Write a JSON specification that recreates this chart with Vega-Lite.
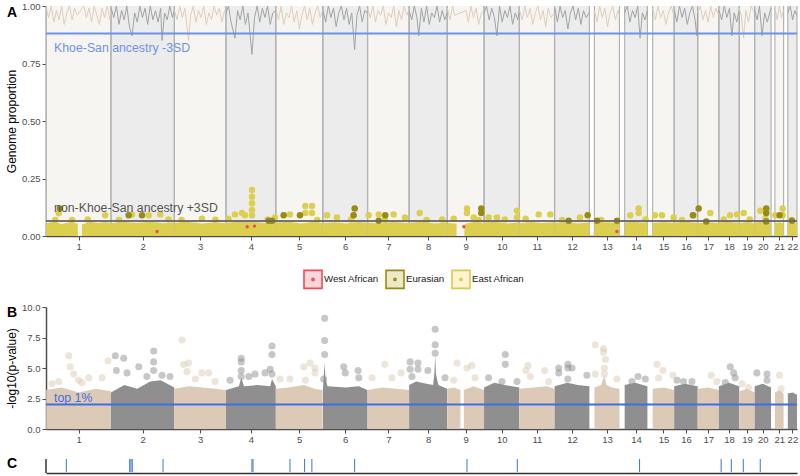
{
"$schema": "https://vega.github.io/schema/vega-lite/v6.json",
"background": "white",
"padding": {"left": 5, "top": 1, "right": 2, "bottom": 1},
"spacing": 10,
"config": {
 "font": "Liberation Sans",
 "view": {"stroke": null},
 "axis": {"grid": false, "domainColor": "#4d4d4d", "domainWidth": 1.5, "tickColor": "#4d4d4d", "tickWidth": 1, "tickSize": 4, "labelColor": "#4d4d4d", "labelFontSize": 9.5, "labelPadding": 2, "titleFontSize": 12, "titleFontWeight": "normal", "titleColor": "#000000", "titlePadding": 3, "labelFlush": false, "labelOverlap": false, "tickCount": 40}
},
"resolve": {"scale": {"fill": "independent", "stroke": "independent"}, "legend": {"fill": "independent", "stroke": "independent"}},
"datasets": {
 "chroms": [
  {"c":1,"g":0.8,"e":249.2},{"c":2,"g":249.3,"e":492.3},{"c":3,"g":492.5,"e":690.4},{"c":4,"g":690.5,"e":881.6},{"c":5,"g":881.7,"e":1061.3},{"c":6,"g":1062.7,"e":1233.4},{"c":7,"g":1233.7,"e":1392.7},{"c":8,"g":1393,"e":1539.1},{"c":9,"g":1539.4,"e":1680.3},{"c":10,"g":1680.5,"e":1815.8},{"c":11,"g":1816.1,"e":1950.8},{"c":12,"g":1951.1,"e":2084.6},{"c":13,"g":2103.8,"e":2199.9},{"c":14,"g":2219.9,"e":2307.2},{"c":15,"g":2327.4,"e":2409.8},{"c":16,"g":2409.9,"e":2500},{"c":17,"g":2500.2,"e":2581.3},{"c":18,"g":2581.4,"e":2659.4},{"c":19,"g":2659.6,"e":2718.5},{"c":20,"g":2718.6,"e":2781.5},{"c":21,"g":2796.2,"e":2829.7},{"c":22,"g":2845.8,"e":2881}
 ],
 "ks": [
  {"c":1,"g":1,"v":0.99},{"c":1,"g":10,"v":0.95},{"c":1,"g":20,"v":1},{"c":1,"g":30,"v":0.93},{"c":1,"g":40,"v":0.98},{"c":1,"g":50,"v":0.94},{"c":1,"g":60,"v":1},{"c":1,"g":70,"v":0.92},{"c":1,"g":80,"v":0.97},{"c":1,"g":90,"v":1},{"c":1,"g":100,"v":0.94},{"c":1,"g":110,"v":0.99},{"c":1,"g":120,"v":0.96},{"c":1,"g":145,"v":1},{"c":1,"g":155,"v":0.95},{"c":1,"g":165,"v":0.99},{"c":1,"g":175,"v":0.93},{"c":1,"g":185,"v":1},{"c":1,"g":195,"v":0.96},{"c":1,"g":205,"v":0.92},{"c":1,"g":215,"v":0.99},{"c":1,"g":225,"v":0.95},{"c":1,"g":235,"v":1},{"c":1,"g":245,"v":0.94},{"c":1,"g":249,"v":0.98},
  {"c":2,"g":250,"v":0.99},{"c":2,"g":260,"v":0.95},{"c":2,"g":270,"v":1},{"c":2,"g":280,"v":0.92},{"c":2,"g":290,"v":0.98},{"c":2,"g":300,"v":0.94},{"c":2,"g":310,"v":1},{"c":2,"g":320,"v":0.91},{"c":2,"g":330,"v":0.87},{"c":2,"g":340,"v":0.97},{"c":2,"g":350,"v":0.93},{"c":2,"g":360,"v":1},{"c":2,"g":370,"v":0.95},{"c":2,"g":380,"v":0.99},{"c":2,"g":390,"v":0.92},{"c":2,"g":400,"v":1},{"c":2,"g":410,"v":0.94},{"c":2,"g":420,"v":0.98},{"c":2,"g":430,"v":0.93},{"c":2,"g":440,"v":0.99},{"c":2,"g":445,"v":0.85},{"c":2,"g":455,"v":0.97},{"c":2,"g":465,"v":0.94},{"c":2,"g":475,"v":1},{"c":2,"g":485,"v":0.95},{"c":2,"g":492,"v":0.98},
  {"c":3,"g":493,"v":0.98},{"c":3,"g":503,"v":0.94},{"c":3,"g":513,"v":1},{"c":3,"g":523,"v":0.95},{"c":3,"g":533,"v":0.99},{"c":3,"g":547,"v":0.85},{"c":3,"g":555,"v":0.96},{"c":3,"g":565,"v":1},{"c":3,"g":575,"v":0.93},{"c":3,"g":585,"v":0.98},{"c":3,"g":595,"v":0.95},{"c":3,"g":605,"v":1},{"c":3,"g":615,"v":0.92},{"c":3,"g":625,"v":0.97},{"c":3,"g":635,"v":0.94},{"c":3,"g":645,"v":1},{"c":3,"g":655,"v":0.96},{"c":3,"g":665,"v":0.99},{"c":3,"g":675,"v":0.93},{"c":3,"g":685,"v":0.98},{"c":3,"g":690,"v":0.97},
  {"c":4,"g":691,"v":0.97},{"c":4,"g":700,"v":1},{"c":4,"g":710,"v":0.93},{"c":4,"g":725,"v":0.86},{"c":4,"g":735,"v":0.98},{"c":4,"g":745,"v":0.94},{"c":4,"g":755,"v":1},{"c":4,"g":765,"v":0.92},{"c":4,"g":775,"v":0.97},{"c":4,"g":790,"v":0.79},{"c":4,"g":800,"v":0.95},{"c":4,"g":810,"v":1},{"c":4,"g":820,"v":0.93},{"c":4,"g":830,"v":0.99},{"c":4,"g":840,"v":0.95},{"c":4,"g":850,"v":1},{"c":4,"g":860,"v":0.92},{"c":4,"g":870,"v":0.97},{"c":4,"g":881,"v":0.98},
  {"c":5,"g":882,"v":0.99},{"c":5,"g":892,"v":0.94},{"c":5,"g":902,"v":1},{"c":5,"g":912,"v":0.92},{"c":5,"g":922,"v":0.97},{"c":5,"g":932,"v":0.95},{"c":5,"g":942,"v":1},{"c":5,"g":952,"v":0.93},{"c":5,"g":962,"v":0.98},{"c":5,"g":972,"v":0.9},{"c":5,"g":982,"v":0.96},{"c":5,"g":992,"v":1},{"c":5,"g":1002,"v":0.94},{"c":5,"g":1012,"v":0.99},{"c":5,"g":1022,"v":0.92},{"c":5,"g":1032,"v":0.97},{"c":5,"g":1042,"v":1},{"c":5,"g":1052,"v":0.95},{"c":5,"g":1061,"v":0.98},
  {"c":6,"g":1063,"v":0.98},{"c":6,"g":1073,"v":0.93},{"c":6,"g":1083,"v":1},{"c":6,"g":1093,"v":0.95},{"c":6,"g":1103,"v":0.99},{"c":6,"g":1113,"v":0.91},{"c":6,"g":1123,"v":0.97},{"c":6,"g":1133,"v":1},{"c":6,"g":1143,"v":0.94},{"c":6,"g":1153,"v":0.99},{"c":6,"g":1163,"v":0.92},{"c":6,"g":1173,"v":0.97},{"c":6,"g":1184,"v":0.81},{"c":6,"g":1193,"v":0.96},{"c":6,"g":1203,"v":1},{"c":6,"g":1213,"v":0.93},{"c":6,"g":1223,"v":0.98},{"c":6,"g":1233,"v":0.97},
  {"c":7,"g":1234,"v":0.99},{"c":7,"g":1244,"v":0.95},{"c":7,"g":1254,"v":1},{"c":7,"g":1264,"v":0.93},{"c":7,"g":1274,"v":0.98},{"c":7,"g":1284,"v":0.96},{"c":7,"g":1294,"v":1},{"c":7,"g":1304,"v":0.92},{"c":7,"g":1314,"v":0.97},{"c":7,"g":1324,"v":0.95},{"c":7,"g":1334,"v":1},{"c":7,"g":1344,"v":0.91},{"c":7,"g":1354,"v":0.98},{"c":7,"g":1364,"v":0.94},{"c":7,"g":1374,"v":1},{"c":7,"g":1384,"v":0.96},{"c":7,"g":1392,"v":0.98},
  {"c":8,"g":1393,"v":0.98},{"c":8,"g":1403,"v":0.94},{"c":8,"g":1413,"v":1},{"c":8,"g":1423,"v":0.95},{"c":8,"g":1430,"v":0.87},{"c":8,"g":1440,"v":0.99},{"c":8,"g":1450,"v":0.93},{"c":8,"g":1460,"v":1},{"c":8,"g":1470,"v":0.92},{"c":8,"g":1480,"v":0.97},{"c":8,"g":1490,"v":0.95},{"c":8,"g":1500,"v":1},{"c":8,"g":1510,"v":0.93},{"c":8,"g":1520,"v":0.98},{"c":8,"g":1530,"v":0.94},{"c":8,"g":1539,"v":0.97},
  {"c":9,"g":1540,"v":0.99},{"c":9,"g":1550,"v":0.94},{"c":9,"g":1560,"v":1},{"c":9,"g":1568,"v":0.96},{"c":9,"g":1612,"v":0.98},{"c":9,"g":1620,"v":0.93},{"c":9,"g":1630,"v":1},{"c":9,"g":1640,"v":0.95},{"c":9,"g":1650,"v":0.99},{"c":9,"g":1660,"v":0.92},{"c":9,"g":1670,"v":0.97},{"c":9,"g":1680,"v":0.98},
  {"c":10,"g":1681,"v":0.97},{"c":10,"g":1690,"v":1},{"c":10,"g":1700,"v":0.94},{"c":10,"g":1710,"v":0.99},{"c":10,"g":1720,"v":0.95},{"c":10,"g":1730,"v":0.87},{"c":10,"g":1740,"v":1},{"c":10,"g":1750,"v":0.93},{"c":10,"g":1760,"v":0.98},{"c":10,"g":1770,"v":0.95},{"c":10,"g":1780,"v":1},{"c":10,"g":1790,"v":0.92},{"c":10,"g":1800,"v":0.97},{"c":10,"g":1810,"v":0.94},{"c":10,"g":1815,"v":0.98},
  {"c":11,"g":1817,"v":0.98},{"c":11,"g":1827,"v":0.94},{"c":11,"g":1837,"v":1},{"c":11,"g":1847,"v":0.95},{"c":11,"g":1857,"v":0.99},{"c":11,"g":1867,"v":0.92},{"c":11,"g":1877,"v":0.97},{"c":11,"g":1887,"v":1},{"c":11,"g":1897,"v":0.94},{"c":11,"g":1907,"v":0.98},{"c":11,"g":1917,"v":0.91},{"c":11,"g":1927,"v":0.99},{"c":11,"g":1937,"v":0.95},{"c":11,"g":1950,"v":0.97},
  {"c":12,"g":1952,"v":0.99},{"c":12,"g":1962,"v":0.93},{"c":12,"g":1972,"v":1},{"c":12,"g":1982,"v":0.95},{"c":12,"g":1992,"v":0.98},{"c":12,"g":2002,"v":0.9},{"c":12,"g":2012,"v":0.97},{"c":12,"g":2022,"v":1},{"c":12,"g":2032,"v":0.94},{"c":12,"g":2042,"v":0.99},{"c":12,"g":2052,"v":0.92},{"c":12,"g":2062,"v":0.98},{"c":12,"g":2072,"v":0.95},{"c":12,"g":2084,"v":0.97},
  {"c":13,"g":2104,"v":0.98},{"c":13,"g":2114,"v":0.93},{"c":13,"g":2124,"v":1},{"c":13,"g":2134,"v":0.95},{"c":13,"g":2144,"v":0.99},{"c":13,"g":2154,"v":0.91},{"c":13,"g":2164,"v":0.97},{"c":13,"g":2174,"v":1},{"c":13,"g":2184,"v":0.94},{"c":13,"g":2194,"v":0.98},{"c":13,"g":2199,"v":0.96},
  {"c":14,"g":2220,"v":0.97},{"c":14,"g":2230,"v":1},{"c":14,"g":2240,"v":0.93},{"c":14,"g":2250,"v":0.98},{"c":14,"g":2260,"v":0.95},{"c":14,"g":2270,"v":1},{"c":14,"g":2279,"v":0.86},{"c":14,"g":2288,"v":0.97},{"c":14,"g":2298,"v":0.94},{"c":14,"g":2307,"v":0.98},
  {"c":15,"g":2328,"v":0.99},{"c":15,"g":2338,"v":0.94},{"c":15,"g":2348,"v":1},{"c":15,"g":2358,"v":0.95},{"c":15,"g":2368,"v":0.98},{"c":15,"g":2378,"v":0.92},{"c":15,"g":2388,"v":0.97},{"c":15,"g":2398,"v":1},{"c":15,"g":2409,"v":0.96},
  {"c":16,"g":2411,"v":0.98},{"c":16,"g":2420,"v":0.93},{"c":16,"g":2430,"v":1},{"c":16,"g":2440,"v":0.95},{"c":16,"g":2450,"v":0.99},{"c":16,"g":2460,"v":0.92},{"c":16,"g":2470,"v":0.97},{"c":16,"g":2480,"v":1},{"c":16,"g":2490,"v":0.94},{"c":16,"g":2497,"v":0.87},{"c":16,"g":2500,"v":0.97},
  {"c":17,"g":2501,"v":0.97},{"c":17,"g":2510,"v":1},{"c":17,"g":2520,"v":0.94},{"c":17,"g":2530,"v":0.98},{"c":17,"g":2540,"v":0.93},{"c":17,"g":2550,"v":1},{"c":17,"g":2560,"v":0.95},{"c":17,"g":2570,"v":0.99},{"c":17,"g":2581,"v":0.96},
  {"c":18,"g":2582,"v":0.98},{"c":18,"g":2592,"v":0.94},{"c":18,"g":2602,"v":1},{"c":18,"g":2612,"v":0.95},{"c":18,"g":2622,"v":0.99},{"c":18,"g":2631,"v":0.87},{"c":18,"g":2640,"v":0.97},{"c":18,"g":2650,"v":0.93},{"c":18,"g":2659,"v":0.98},
  {"c":19,"g":2660,"v":0.99},{"c":19,"g":2668,"v":0.95},{"c":19,"g":2676,"v":0.86},{"c":19,"g":2685,"v":0.98},{"c":19,"g":2695,"v":0.93},{"c":19,"g":2705,"v":1},{"c":19,"g":2718,"v":0.97},
  {"c":20,"g":2719,"v":0.98},{"c":20,"g":2728,"v":0.94},{"c":20,"g":2737,"v":1},{"c":20,"g":2747,"v":0.87},{"c":20,"g":2757,"v":0.97},{"c":20,"g":2767,"v":0.93},{"c":20,"g":2781,"v":0.99},
  {"c":21,"g":2797,"v":0.99},{"c":21,"g":2805,"v":0.94},{"c":21,"g":2813,"v":1},{"c":21,"g":2821,"v":0.95},{"c":21,"g":2829,"v":0.98},
  {"c":22,"g":2846,"v":0.97},{"c":22,"g":2855,"v":1},{"c":22,"g":2864,"v":0.94},{"c":22,"g":2873,"v":0.98},{"c":22,"g":2880,"v":0.96}
 ],
 "ea": [
  {"c":1,"p":"a","g":0.8,"v":0.055},{"c":1,"p":"a","g":30,"v":0.062},{"c":1,"p":"a","g":60,"v":0.052},{"c":1,"p":"a","g":90,"v":0.06},{"c":1,"p":"a","g":122,"v":0.054},
  {"c":1,"p":"b","g":138,"v":0.05},{"c":1,"p":"b","g":170,"v":0.062},{"c":1,"p":"b","g":200,"v":0.056},{"c":1,"p":"b","g":230,"v":0.061},{"c":1,"p":"b","g":249.2,"v":0.055},
  {"c":2,"p":"a","g":249.3,"v":0.055},{"c":2,"p":"a","g":300,"v":0.061},{"c":2,"p":"a","g":350,"v":0.056},{"c":2,"p":"a","g":400,"v":0.062},{"c":2,"p":"a","g":450,"v":0.055},{"c":2,"p":"a","g":492.3,"v":0.059},
  {"c":3,"p":"a","g":492.5,"v":0.056},{"c":3,"p":"a","g":540,"v":0.062},{"c":3,"p":"a","g":600,"v":0.054},{"c":3,"p":"a","g":650,"v":0.06},{"c":3,"p":"a","g":690.4,"v":0.055},
  {"c":4,"p":"a","g":690.5,"v":0.056},{"c":4,"p":"a","g":740,"v":0.064},{"c":4,"p":"a","g":790,"v":0.062},{"c":4,"p":"a","g":840,"v":0.057},{"c":4,"p":"a","g":881.6,"v":0.06},
  {"c":5,"p":"a","g":881.7,"v":0.059},{"c":5,"p":"a","g":930,"v":0.062},{"c":5,"p":"a","g":980,"v":0.054},{"c":5,"p":"a","g":1020,"v":0.061},{"c":5,"p":"a","g":1061.3,"v":0.056},
  {"c":6,"p":"a","g":1062.7,"v":0.055},{"c":6,"p":"a","g":1110,"v":0.06},{"c":6,"p":"a","g":1150,"v":0.054},{"c":6,"p":"a","g":1200,"v":0.061},{"c":6,"p":"a","g":1233.4,"v":0.056},
  {"c":7,"p":"a","g":1233.7,"v":0.059},{"c":7,"p":"a","g":1280,"v":0.054},{"c":7,"p":"a","g":1330,"v":0.061},{"c":7,"p":"a","g":1392.7,"v":0.056},
  {"c":8,"p":"a","g":1393,"v":0.057},{"c":8,"p":"a","g":1440,"v":0.062},{"c":8,"p":"a","g":1490,"v":0.054},{"c":8,"p":"a","g":1539.1,"v":0.059},
  {"c":9,"p":"a","g":1539.4,"v":0.056},{"c":9,"p":"a","g":1575,"v":0.054},{"c":9,"p":"b","g":1605,"v":0.052},{"c":9,"p":"b","g":1640,"v":0.061},{"c":9,"p":"b","g":1680.3,"v":0.056},
  {"c":10,"p":"a","g":1680.5,"v":0.059},{"c":10,"p":"a","g":1720,"v":0.062},{"c":10,"p":"a","g":1770,"v":0.054},{"c":10,"p":"a","g":1815.8,"v":0.059},
  {"c":11,"p":"a","g":1816.1,"v":0.055},{"c":11,"p":"a","g":1860,"v":0.061},{"c":11,"p":"a","g":1900,"v":0.056},{"c":11,"p":"a","g":1950.8,"v":0.06},
  {"c":12,"p":"a","g":1951.1,"v":0.056},{"c":12,"p":"a","g":2000,"v":0.061},{"c":12,"p":"a","g":2040,"v":0.054},{"c":12,"p":"a","g":2084.6,"v":0.059},
  {"c":13,"p":"a","g":2103.8,"v":0.055},{"c":13,"p":"a","g":2150,"v":0.06},{"c":13,"p":"a","g":2199.9,"v":0.056},
  {"c":14,"p":"a","g":2219.9,"v":0.059},{"c":14,"p":"a","g":2260,"v":0.062},{"c":14,"p":"a","g":2307.2,"v":0.055},
  {"c":15,"p":"a","g":2327.4,"v":0.056},{"c":15,"p":"a","g":2370,"v":0.061},{"c":15,"p":"a","g":2409.8,"v":0.057},
  {"c":16,"p":"a","g":2409.9,"v":0.058},{"c":16,"p":"a","g":2455,"v":0.062},{"c":16,"p":"a","g":2500,"v":0.056},
  {"c":17,"p":"a","g":2500.2,"v":0.055},{"c":17,"p":"a","g":2540,"v":0.06},{"c":17,"p":"a","g":2581.3,"v":0.057},
  {"c":18,"p":"a","g":2581.4,"v":0.059},{"c":18,"p":"a","g":2620,"v":0.062},{"c":18,"p":"a","g":2659.4,"v":0.056},
  {"c":19,"p":"a","g":2659.6,"v":0.057},{"c":19,"p":"a","g":2690,"v":0.061},{"c":19,"p":"a","g":2718.5,"v":0.055},
  {"c":20,"p":"a","g":2718.6,"v":0.059},{"c":20,"p":"a","g":2750,"v":0.062},{"c":20,"p":"a","g":2781.5,"v":0.056},
  {"c":21,"p":"a","g":2796.2,"v":0.055},{"c":21,"p":"a","g":2812,"v":0.06},{"c":21,"p":"a","g":2829.7,"v":0.055},
  {"c":22,"p":"a","g":2845.8,"v":0.056},{"c":22,"p":"a","g":2863,"v":0.059},{"c":22,"p":"a","g":2881,"v":0.055}
 ],
 "pts": [
  {"a":"East African","g":35.7,"v":0.07},{"a":"East African","g":48.7,"v":0.099},{"a":"East African","g":100,"v":0.07},{"a":"East African","g":160,"v":0.072},{"a":"East African","g":227.5,"v":0.09},{"a":"East African","g":280,"v":0.07},{"a":"East African","g":329.9,"v":0.094},{"a":"East African","g":394,"v":0.09},{"a":"East African","g":438.5,"v":0.094},{"a":"East African","g":470,"v":0.072},{"a":"East African","g":520,"v":0.07},{"a":"East African","g":598.4,"v":0.075},{"a":"East African","g":650,"v":0.071},{"a":"East African","g":700,"v":0.075},{"a":"East African","g":725,"v":0.094},{"a":"East African","g":751.9,"v":0.1},{"a":"East African","g":763.4,"v":0.09},{"a":"East African","g":790.3,"v":0.2},{"a":"East African","g":790.3,"v":0.171},{"a":"East African","g":790.3,"v":0.142},{"a":"East African","g":790.3,"v":0.113},{"a":"East African","g":790.3,"v":0.09},{"a":"East African","g":850,"v":0.072},{"a":"East African","g":878.6,"v":0.08},{"a":"East African","g":936,"v":0.094},{"a":"East African","g":994.7,"v":0.13},{"a":"East African","g":994.7,"v":0.1},{"a":"East African","g":1020.4,"v":0.13},{"a":"East African","g":1020.4,"v":0.1},{"a":"East African","g":1040,"v":0.07},{"a":"East African","g":1077.9,"v":0.09},{"a":"East African","g":1116.3,"v":0.08},{"a":"East African","g":1170,"v":0.072},{"a":"East African","g":1237.9,"v":0.09},{"a":"East African","g":1276.3,"v":0.094},{"a":"East African","g":1300,"v":0.07},{"a":"East African","g":1333.8,"v":0.094},{"a":"East African","g":1377,"v":0.08},{"a":"East African","g":1433.5,"v":0.1},{"a":"East African","g":1460,"v":0.07},{"a":"East African","g":1520,"v":0.072},{"a":"East African","g":1564,"v":0.075},{"a":"East African","g":1615,"v":0.12},{"a":"East African","g":1615,"v":0.1},{"a":"East African","g":1640.7,"v":0.08},{"a":"East African","g":1660,"v":0.07},{"a":"East African","g":1698.2,"v":0.08},{"a":"East African","g":1730,"v":0.08},{"a":"East African","g":1760,"v":0.072},{"a":"East African","g":1806.8,"v":0.11},{"a":"East African","g":1806.8,"v":0.08},{"a":"East African","g":1840,"v":0.075},{"a":"East African","g":1890,"v":0.094},{"a":"East African","g":1934.5,"v":0.094},{"a":"East African","g":1980,"v":0.07},{"a":"East African","g":2048.4,"v":0.08},{"a":"East African","g":2130,"v":0.07},{"a":"East African","g":2241.4,"v":0.09},{"a":"East African","g":2273.6,"v":0.12},{"a":"East African","g":2273.6,"v":0.1},{"a":"East African","g":2300,"v":0.072},{"a":"East African","g":2336.1,"v":0.09},{"a":"East African","g":2363,"v":0.09},{"a":"East African","g":2407.9,"v":0.08},{"a":"East African","g":2440,"v":0.07},{"a":"East African","g":2484.6,"v":0.09},{"a":"East African","g":2548.3,"v":0.1},{"a":"East African","g":2600,"v":0.072},{"a":"East African","g":2623.9,"v":0.09},{"a":"East African","g":2650.7,"v":0.094},{"a":"East African","g":2676.4,"v":0.1},{"a":"East African","g":2700,"v":0.072},{"a":"East African","g":2740,"v":0.11},{"a":"East African","g":2760,"v":0.075},{"a":"East African","g":2797.6,"v":0.09},{"a":"East African","g":2826,"v":0.12},{"a":"East African","g":2826,"v":0.09},{"a":"East African","g":2860,"v":0.07},
  {"a":"Eurasian","g":53.7,"v":0.12},{"a":"Eurasian","g":317.2,"v":0.09},{"a":"Eurasian","g":368.3,"v":0.09},{"a":"Eurasian","g":854.3,"v":0.066},{"a":"Eurasian","g":867,"v":0.066},{"a":"Eurasian","g":911.8,"v":0.09},{"a":"Eurasian","g":974.3,"v":0.09},{"a":"Eurasian","g":1180,"v":0.09},{"a":"Eurasian","g":1184.2,"v":0.12},{"a":"Eurasian","g":1276.2,"v":0.066},{"a":"Eurasian","g":1301.5,"v":0.09},{"a":"Eurasian","g":1669.8,"v":0.12},{"a":"Eurasian","g":1669.8,"v":0.1},{"a":"Eurasian","g":2005,"v":0.066},{"a":"Eurasian","g":2078,"v":0.09},{"a":"Eurasian","g":2113.6,"v":0.066},{"a":"Eurasian","g":2190.4,"v":0.066},{"a":"Eurasian","g":2481.9,"v":0.09},{"a":"Eurasian","g":2503.8,"v":0.12},{"a":"Eurasian","g":2532.9,"v":0.063},{"a":"Eurasian","g":2763.1,"v":0.12},{"a":"Eurasian","g":2763.1,"v":0.1},{"a":"Eurasian","g":2763.1,"v":0.063},{"a":"Eurasian","g":2814.5,"v":0.09},{"a":"Eurasian","g":2861.7,"v":0.066},
  {"a":"West African","g":426,"v":0.02},{"a":"West African","g":772,"v":0.04},{"a":"West African","g":800,"v":0.043},{"a":"West African","g":1603,"v":0.04},{"a":"West African","g":2190,"v":0.02}
 ],
 "bd": [
  {"c":1,"p":"a","g":0.8,"v":3.2},{"c":1,"p":"a","g":60,"v":3.4},{"c":1,"p":"a","g":125,"v":3.0},{"c":1,"p":"a","g":190,"v":3.3},{"c":1,"p":"a","g":249.2,"v":3.1},
  {"c":2,"p":"a","g":249.3,"v":3.0},{"c":2,"p":"a","g":300,"v":3.6},{"c":2,"p":"a","g":350,"v":3.3},{"c":2,"p":"a","g":400,"v":3.9},{"c":2,"p":"a","g":440,"v":4.0},{"c":2,"p":"a","g":492.3,"v":3.4},
  {"c":3,"p":"a","g":492.5,"v":3.3},{"c":3,"p":"a","g":550,"v":3.5},{"c":3,"p":"a","g":600,"v":3.4},{"c":3,"p":"a","g":650,"v":3.3},{"c":3,"p":"a","g":690.4,"v":3.2},
  {"c":4,"p":"a","g":690.5,"v":3.2},{"c":4,"p":"a","g":740,"v":3.5},{"c":4,"p":"a","g":749,"v":4.2},{"c":4,"p":"a","g":760,"v":3.5},{"c":4,"p":"a","g":810,"v":3.6},{"c":4,"p":"a","g":860,"v":3.5},{"c":4,"p":"a","g":867,"v":4.1},{"c":4,"p":"a","g":881.6,"v":3.5},
  {"c":5,"p":"a","g":881.7,"v":3.3},{"c":5,"p":"a","g":930,"v":3.4},{"c":5,"p":"a","g":990,"v":3.6},{"c":5,"p":"a","g":1030,"v":3.3},{"c":5,"p":"a","g":1061.3,"v":3.2},
  {"c":6,"p":"a","g":1062.7,"v":3.3},{"c":6,"p":"a","g":1066,"v":4.5},{"c":6,"p":"a","g":1069,"v":5.4},{"c":6,"p":"a","g":1072,"v":4.2},{"c":6,"p":"a","g":1080,"v":3.5},{"c":6,"p":"a","g":1150,"v":3.4},{"c":6,"p":"a","g":1200,"v":3.5},{"c":6,"p":"a","g":1233.4,"v":3.2},
  {"c":7,"p":"a","g":1233.7,"v":3.2},{"c":7,"p":"a","g":1290,"v":3.4},{"c":7,"p":"a","g":1340,"v":3.3},{"c":7,"p":"a","g":1392.7,"v":3.2},
  {"c":8,"p":"a","g":1393,"v":3.6},{"c":8,"p":"a","g":1420,"v":3.9},{"c":8,"p":"a","g":1460,"v":3.7},{"c":8,"p":"a","g":1485,"v":3.6},{"c":8,"p":"a","g":1490,"v":4.6},{"c":8,"p":"a","g":1493,"v":6.0},{"c":8,"p":"a","g":1496,"v":4.5},{"c":8,"p":"a","g":1505,"v":3.6},{"c":8,"p":"a","g":1539.1,"v":3.3},
  {"c":9,"p":"a","g":1539.4,"v":3.3},{"c":9,"p":"a","g":1565,"v":3.4},{"c":9,"p":"a","g":1590,"v":3.2},{"c":9,"p":"b","g":1603,"v":3.2},{"c":9,"p":"b","g":1640,"v":3.5},{"c":9,"p":"b","g":1680.3,"v":3.2},
  {"c":10,"p":"a","g":1680.5,"v":3.4},{"c":10,"p":"a","g":1720,"v":3.8},{"c":10,"p":"a","g":1760,"v":3.6},{"c":10,"p":"a","g":1815.8,"v":3.4},
  {"c":11,"p":"a","g":1816.1,"v":3.3},{"c":11,"p":"a","g":1870,"v":3.4},{"c":11,"p":"a","g":1920,"v":3.5},{"c":11,"p":"a","g":1950.8,"v":3.3},
  {"c":12,"p":"a","g":1951.1,"v":3.5},{"c":12,"p":"a","g":2000,"v":3.8},{"c":12,"p":"a","g":2040,"v":3.6},{"c":12,"p":"a","g":2084.6,"v":3.5},
  {"c":13,"p":"a","g":2103.8,"v":3.4},{"c":13,"p":"a","g":2130,"v":3.6},{"c":13,"p":"a","g":2142,"v":4.4},{"c":13,"p":"a","g":2150,"v":3.6},{"c":13,"p":"a","g":2170,"v":3.4},{"c":13,"p":"a","g":2199.9,"v":3.3},
  {"c":14,"p":"a","g":2219.9,"v":3.6},{"c":14,"p":"a","g":2260,"v":3.8},{"c":14,"p":"a","g":2307.2,"v":3.5},
  {"c":15,"p":"a","g":2327.4,"v":3.3},{"c":15,"p":"a","g":2370,"v":3.4},{"c":15,"p":"a","g":2409.8,"v":3.2},
  {"c":16,"p":"a","g":2409.9,"v":3.5},{"c":16,"p":"a","g":2450,"v":3.7},{"c":16,"p":"a","g":2500,"v":3.5},
  {"c":17,"p":"a","g":2500.2,"v":3.3},{"c":17,"p":"a","g":2540,"v":3.4},{"c":17,"p":"a","g":2581.3,"v":3.2},
  {"c":18,"p":"a","g":2581.4,"v":3.5},{"c":18,"p":"a","g":2620,"v":3.8},{"c":18,"p":"a","g":2659.4,"v":3.5},
  {"c":19,"p":"a","g":2659.6,"v":3.1},{"c":19,"p":"a","g":2690,"v":3.3},{"c":19,"p":"a","g":2718.5,"v":3.0},
  {"c":20,"p":"a","g":2718.6,"v":3.5},{"c":20,"p":"a","g":2750,"v":3.7},{"c":20,"p":"a","g":2781.5,"v":3.4},
  {"c":21,"p":"a","g":2796.2,"v":3.0},{"c":21,"p":"a","g":2812,"v":3.2},{"c":21,"p":"a","g":2829.7,"v":2.9},
  {"c":22,"p":"a","g":2845.8,"v":2.9},{"c":22,"p":"a","g":2865,"v":3.0},{"c":22,"p":"a","g":2881,"v":2.8}
 ],
 "bp": [
  {"c":1,"g":87,"v":6.0},{"c":1,"g":93,"v":5.1},{"c":1,"g":106,"v":4.5},{"c":1,"g":49,"v":3.9},{"c":1,"g":23,"v":3.7},{"c":1,"g":164,"v":4.2},{"c":1,"g":215,"v":4.2},{"c":1,"g":238,"v":5.6},{"c":1,"g":125,"v":4.0},{"c":1,"g":138,"v":3.8},
  {"c":2,"g":266,"v":6.0},{"c":2,"g":298,"v":5.8},{"c":2,"g":270,"v":4.8},{"c":2,"g":356,"v":5.1},{"c":2,"g":413,"v":6.4},{"c":2,"g":413,"v":5.5},{"c":2,"g":413,"v":4.8},{"c":2,"g":476,"v":4.3},{"c":2,"g":311,"v":4.6},{"c":2,"g":387,"v":4.3},{"c":2,"g":445,"v":4.4},
  {"c":3,"g":522,"v":7.3},{"c":3,"g":528,"v":5.3},{"c":3,"g":547,"v":5.4},{"c":3,"g":541,"v":4.7},{"c":3,"g":598,"v":4.6},{"c":3,"g":624,"v":4.6},{"c":3,"g":573,"v":4.1},{"c":3,"g":648,"v":3.9},
  {"c":4,"g":706,"v":4.0},{"c":4,"g":749,"v":5.8},{"c":4,"g":749,"v":5.5},{"c":4,"g":749,"v":4.8},{"c":4,"g":749,"v":4.3},{"c":4,"g":778,"v":4.3},{"c":4,"g":802,"v":4.5},{"c":4,"g":840,"v":4.6},{"c":4,"g":867,"v":6.8},{"c":4,"g":867,"v":6.1},{"c":4,"g":860,"v":4.9},{"c":4,"g":867,"v":4.5},
  {"c":5,"g":898,"v":4.1},{"c":5,"g":936,"v":4.1},{"c":5,"g":989,"v":5.1},{"c":5,"g":1013,"v":5.4},{"c":5,"g":1032,"v":5.0},{"c":5,"g":1032,"v":4.6},{"c":5,"g":995,"v":4.0},
  {"c":6,"g":1069,"v":9.07},{"c":6,"g":1069,"v":7.25},{"c":6,"g":1069,"v":6.1},{"c":6,"g":1065,"v":4.1},{"c":6,"g":1142,"v":5.1},{"c":6,"g":1148,"v":4.6},{"c":6,"g":1197,"v":4.8},{"c":6,"g":1200,"v":4.2},
  {"c":7,"g":1300,"v":5.3},{"c":7,"g":1251,"v":4.2},{"c":7,"g":1327,"v":4.2},{"c":7,"g":1362,"v":4.6},
  {"c":8,"g":1397,"v":5.5},{"c":8,"g":1397,"v":4.9},{"c":8,"g":1427,"v":5.4},{"c":8,"g":1427,"v":4.9},{"c":8,"g":1465,"v":4.8},{"c":8,"g":1493,"v":8.17},{"c":8,"g":1493,"v":6.9},{"c":8,"g":1493,"v":6.2},{"c":8,"g":1531,"v":4.2},{"c":8,"g":1404,"v":4.3},
  {"c":9,"g":1577,"v":5.4},{"c":9,"g":1615,"v":5.0},{"c":9,"g":1634,"v":5.2},{"c":9,"g":1564,"v":4.0},{"c":9,"g":1646,"v":4.2},
  {"c":10,"g":1698,"v":4.2},{"c":10,"g":1762,"v":6.1},{"c":10,"g":1762,"v":5.3},{"c":10,"g":1749,"v":3.9},{"c":10,"g":1807,"v":3.9},
  {"c":11,"g":1849,"v":5.2},{"c":11,"g":1841,"v":4.8},{"c":11,"g":1913,"v":4.8},{"c":11,"g":1858,"v":4.3},{"c":11,"g":1928,"v":3.9},
  {"c":12,"g":1967,"v":5.0},{"c":12,"g":1967,"v":4.6},{"c":12,"g":2002,"v":5.3},{"c":12,"g":2002,"v":5.0},{"c":12,"g":2018,"v":5.0},{"c":12,"g":2002,"v":4.1},{"c":12,"g":2075,"v":4.4},
  {"c":13,"g":2107,"v":6.9},{"c":13,"g":2139,"v":6.6},{"c":13,"g":2139,"v":6.3},{"c":13,"g":2146,"v":5.7},{"c":13,"g":2142,"v":5.0},{"c":13,"g":2142,"v":4.5},{"c":13,"g":2107,"v":4.5},{"c":13,"g":2190,"v":4.1},
  {"c":14,"g":2271,"v":4.3},{"c":14,"g":2248,"v":3.9},{"c":14,"g":2299,"v":4.1},
  {"c":15,"g":2344,"v":5.3},{"c":15,"g":2367,"v":4.8},{"c":15,"g":2405,"v":4.4},{"c":15,"g":2350,"v":4.2},
  {"c":16,"g":2421,"v":4.0},{"c":16,"g":2446,"v":3.9},{"c":16,"g":2478,"v":3.9},
  {"c":17,"g":2552,"v":4.4},{"c":17,"g":2574,"v":3.9},
  {"c":18,"g":2625,"v":5.1},{"c":18,"g":2638,"v":4.6},{"c":18,"g":2644,"v":4.2},{"c":18,"g":2606,"v":3.8},
  {"c":19,"g":2670,"v":3.7},{"c":19,"g":2695,"v":3.4},
  {"c":20,"g":2727,"v":4.6},{"c":20,"g":2766,"v":4.5},{"c":20,"g":2766,"v":4.0},
  {"c":21,"g":2814,"v":4.4},{"c":21,"g":2820,"v":3.3}
 ],
 "ct": [
  {"g":78},{"g":321},{"g":326},{"g":331},{"g":449},{"g":790},{"g":794},{"g":936},{"g":992},{"g":1020},{"g":1184},{"g":1615},{"g":1808},{"g":2277},{"g":2590},{"g":2629},{"g":2675},{"g":2740}
 ]
},
"vconcat": [
 {
  "width": 751, "height": 230,
  "layer": [
   {"data": {"name": "chroms"}, "mark": {"type": "rect"},
    "encoding": {
     "x": {"field": "g", "type": "quantitative", "scale": {"domain": [0, 2881.03], "nice": false, "zero": false},
           "axis": {"title": null, "tickCount": 40, "labelOverlap": false, "labelFlush": false, "values": [125,370.8,591.45,786.05,971.5,1148.05,1313.2,1466.05,1609.85,1748.15,1883.45,2017.85,2151.85,2263.55,2368.6,2454.95,2540.75,2620.4,2689.05,2750.05,2812.95,2863.4], "labelExpr": "indexof([125,370.8,591.45,786.05,971.5,1148.05,1313.2,1466.05,1609.85,1748.15,1883.45,2017.85,2151.85,2263.55,2368.6,2454.95,2540.75,2620.4,2689.05,2750.05,2812.95,2863.4], datum.value) + 1", "labelPadding": 1}},
     "x2": {"field": "e"},
     "y": {"datum": 0, "type": "quantitative"},
     "y2": {"datum": 1},
     "color": {"condition": {"test": "datum.c % 2 == 1", "value": "#f7f5f1"}, "value": "#ececec"}
    }},
   {"data": {"name": "chroms"}, "mark": {"type": "rule", "color": "#b3b3b3", "strokeWidth": 1.2},
    "encoding": {"x": {"field": "g", "type": "quantitative"}}},
   {"data": {"name": "chroms"}, "mark": {"type": "rule", "color": "#b3b3b3", "strokeWidth": 1.2},
    "encoding": {"x": {"field": "e", "type": "quantitative"}}},
   {"data": {"name": "ks"}, "mark": {"type": "line", "strokeWidth": 1},
    "encoding": {
     "x": {"field": "g", "type": "quantitative"},
     "y": {"field": "v", "type": "quantitative", "scale": {"domain": [0, 1], "nice": false}, "axis": {"title": "Genome proportion", "tickCount": 10, "values": [0, 0.25, 0.5, 0.75, 1], "format": ".2f"}},
     "detail": {"field": "c"},
     "color": {"condition": {"test": "datum.c % 2 == 1", "value": "#dfcebb"}, "value": "#a3a3a3"}
    }},
   {"data": {"values": [{}]}, "mark": {"type": "rule", "color": "#6f92e8", "strokeWidth": 2},
    "encoding": {"y": {"datum": 0.88}}},
   {"data": {"values": [{"t": "Khoe-San ancestry -3SD"}]}, "mark": {"type": "text", "align": "left", "baseline": "middle", "fontSize": 12.3, "color": "#6f92e8"},
    "encoding": {"x": {"datum": 31}, "y": {"datum": 0.817}, "text": {"field": "t"}}},
   {"data": {"name": "ea"}, "mark": {"type": "area", "color": "#dccf50"},
    "encoding": {"x": {"field": "g", "type": "quantitative"}, "y": {"field": "v", "type": "quantitative", "stack": null}, "detail": [{"field": "c"}, {"field": "p"}]}},
   {"data": {"name": "pts"}, "mark": {"type": "circle", "opacity": 1},
    "encoding": {
     "x": {"field": "g", "type": "quantitative"}, "y": {"field": "v", "type": "quantitative"},
     "color": {"condition": [{"test": "datum.a == 'West African'", "value": "#ee4b55"}, {"test": "datum.a == 'Eurasian'", "value": "#998a16"}], "value": "#dccf50"},
     "size": {"condition": {"test": "datum.a == 'West African'", "value": 12}, "value": 42}
    }},
   {"data": {"values": [{}]}, "mark": {"type": "rule", "color": "#666666", "strokeWidth": 2, "opacity": 0.9},
    "encoding": {"y": {"datum": 0.065}}},
   {"data": {"values": [{"t": "non-Khoe-San ancestry +3SD"}]}, "mark": {"type": "text", "align": "left", "baseline": "middle", "fontSize": 12.3, "color": "#555555"},
    "encoding": {"x": {"datum": 31}, "y": {"datum": 0.122}, "text": {"field": "t"}}},
   {"data": {"name": "pts"}, "mark": {"type": "square", "filled": true, "opacity": 0},
    "encoding": {
     "x": {"field": "g", "type": "quantitative"}, "y": {"field": "v", "type": "quantitative"},
     "fill": {"field": "a", "type": "nominal", "scale": {"domain": ["West African", "Eurasian", "East African"], "range": ["#fdd6da", "#ece8c8", "#faf5d0"]},
              "legend": {"title": null, "orient": "none", "legendX": 257, "legendY": 263, "direction": "horizontal", "symbolType": "M-1,-1H1V1H-1Z M-0.12,0A0.12,0.12,0,1,0,0.12,0A0.12,0.12,0,1,0,-0.12,0Z", "symbolSize": 324, "symbolStrokeWidth": 1.6, "symbolOpacity": 1, "labelFontSize": 9.7, "labelColor": "#1a1a1a", "labelOffset": 1, "columnPadding": 3, "padding": 0}},
     "stroke": {"field": "a", "type": "nominal", "scale": {"domain": ["West African", "Eurasian", "East African"], "range": ["#ee4b55", "#998a16", "#d8ca4c"]},
              "legend": {"title": null, "orient": "none", "legendX": 257, "legendY": 263, "direction": "horizontal", "symbolType": "M-1,-1H1V1H-1Z M-0.12,0A0.12,0.12,0,1,0,0.12,0A0.12,0.12,0,1,0,-0.12,0Z", "symbolSize": 324, "symbolStrokeWidth": 1.6, "symbolOpacity": 1, "labelFontSize": 9.7, "labelColor": "#1a1a1a", "labelOffset": 1, "columnPadding": 3, "padding": 0}}
    }},
   {"data": {"values": [{"t": "A"}]}, "mark": {"type": "text", "fontWeight": "bold", "fontSize": 14, "align": "center", "baseline": "middle", "dx": -34, "dy": 6.5, "color": "#000000"},
    "encoding": {"x": {"datum": 0}, "y": {"datum": 1}, "text": {"field": "t"}}}
  ]
 },
 {
  "width": 751, "height": 122,
  "layer": [
   {"data": {"name": "bd"}, "mark": {"type": "area"},
    "encoding": {
     "x": {"field": "g", "type": "quantitative", "scale": {"domain": [0, 2881.03], "nice": false, "zero": false},
           "axis": {"title": null, "tickCount": 40, "labelOverlap": false, "labelFlush": false, "values": [125,370.8,591.45,786.05,971.5,1148.05,1313.2,1466.05,1609.85,1748.15,1883.45,2017.85,2151.85,2263.55,2368.6,2454.95,2540.75,2620.4,2689.05,2750.05,2812.95,2863.4], "labelExpr": "indexof([125,370.8,591.45,786.05,971.5,1148.05,1313.2,1466.05,1609.85,1748.15,1883.45,2017.85,2151.85,2263.55,2368.6,2454.95,2540.75,2620.4,2689.05,2750.05,2812.95,2863.4], datum.value) + 1", "labelPadding": 1}},
     "y": {"field": "v", "type": "quantitative", "stack": null, "scale": {"domain": [0, 10], "nice": false}, "axis": {"title": "-log10(p-value)", "tickCount": 10, "values": [0, 2.5, 5, 7.5, 10], "format": ".1f"}},
     "detail": [{"field": "c"}, {"field": "p"}],
     "color": {"condition": {"test": "datum.c % 2 == 1", "value": "#dccab6"}, "value": "#8f8f8f"}
    }},
   {"data": {"name": "bp"}, "mark": {"type": "circle", "size": 50, "opacity": 0.5},
    "encoding": {
     "x": {"field": "g", "type": "quantitative"}, "y": {"field": "v", "type": "quantitative"},
     "color": {"condition": {"test": "datum.c % 2 == 1", "value": "#dccab6"}, "value": "#8f8f8f"}
    }},
   {"data": {"values": [{}]}, "mark": {"type": "rule", "color": "#3f6fe0", "strokeWidth": 2},
    "encoding": {"y": {"datum": 2}}},
   {"data": {"values": [{"t": "top 1%"}]}, "mark": {"type": "text", "align": "left", "baseline": "middle", "fontSize": 12.3, "color": "#3f6fe0"},
    "encoding": {"x": {"datum": 31}, "y": {"datum": 2.54}, "text": {"field": "t"}}},
   {"data": {"values": [{"t": "B"}]}, "mark": {"type": "text", "fontWeight": "bold", "fontSize": 14, "align": "center", "baseline": "middle", "dx": -34, "dy": 6, "color": "#000000"},
    "encoding": {"x": {"datum": 0}, "y": {"datum": 10}, "text": {"field": "t"}}}
  ]
 },
 {
  "width": 751, "height": 19,
  "layer": [
   {"data": {"name": "ct"}, "mark": {"type": "rule", "color": "#3f6fe0", "strokeWidth": 1},
    "encoding": {
     "x": {"field": "g", "type": "quantitative", "scale": {"domain": [0, 2881.03], "nice": false, "zero": false}, "axis": {"title": null, "labels": false, "ticks": false, "domainColor": "#333333"}},
     "y": {"datum": 0.05, "type": "quantitative", "scale": {"domain": [0, 1], "nice": false}, "axis": null},
     "y2": {"datum": 0.737}
    }},
   {"data": {"values": [{}]}, "mark": {"type": "rule", "color": "#333333", "strokeWidth": 1.5},
    "encoding": {"x": {"datum": 0}, "y": {"datum": 0}, "y2": {"datum": 0.737}}},
   {"data": {"values": [{"t": "C"}]}, "mark": {"type": "text", "fontWeight": "bold", "fontSize": 14, "align": "center", "baseline": "middle", "dx": -34, "color": "#000000"},
    "encoding": {"x": {"datum": 0}, "y": {"datum": 0.47}, "text": {"field": "t"}}}
  ]
 }
]
}
